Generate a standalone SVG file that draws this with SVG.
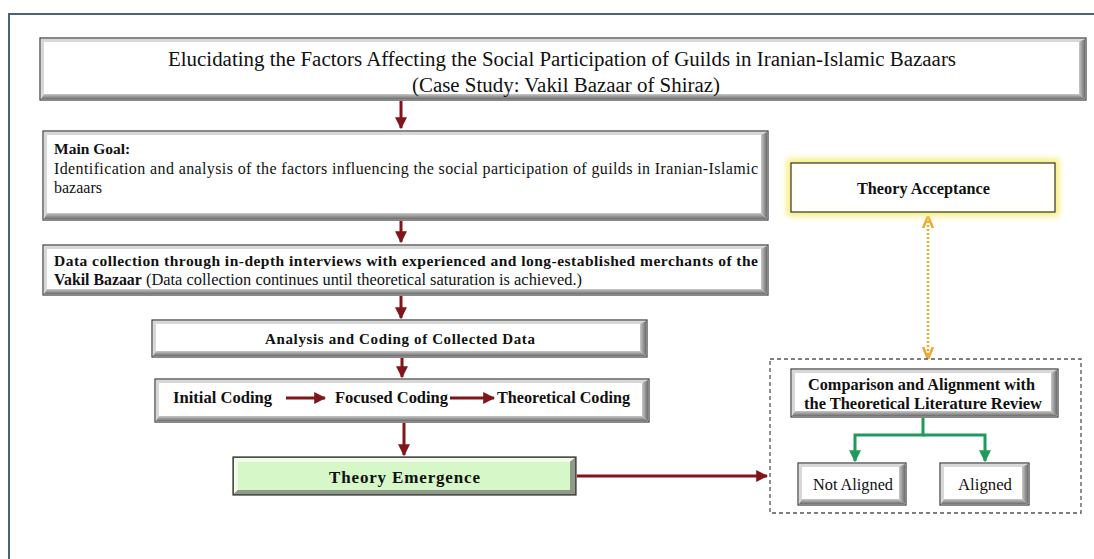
<svg xmlns="http://www.w3.org/2000/svg" width="1094" height="559" viewBox="0 0 1094 559">
<style>
.frame{fill:none;stroke:#4a6378;stroke-width:2}
.bx{fill:#ffffff;stroke:#3a3a3a;stroke-width:1.2}
.bvR{fill:url(#gR)}
.bvB{fill:url(#gB)}
.bvL{fill:#d8d8d8}
.t{font-family:"Liberation Serif","Times New Roman",serif;fill:#111}
.b{font-weight:bold}
.red{stroke:#80161a;stroke-width:3;fill:none}
.grn{stroke:#1e9a5a;stroke-width:3;fill:none}
.org{stroke:#f0a830;stroke-width:2.5;stroke-dasharray:2 2;fill:none}
.dash{fill:none;stroke:#555;stroke-width:1.3;stroke-dasharray:4 3}
</style>
<defs>
<linearGradient id="gR" x1="0" y1="0" x2="1" y2="0"><stop offset="0" stop-color="#c8c8c8"/><stop offset="1" stop-color="#6e6e6e"/></linearGradient>
<linearGradient id="gB" x1="0" y1="0" x2="0" y2="1"><stop offset="0" stop-color="#c8c8c8"/><stop offset="1" stop-color="#6e6e6e"/></linearGradient>
<marker id="ar" viewBox="0 0 10 10" refX="9" refY="5" markerWidth="4" markerHeight="4" orient="auto"><path d="M0,0 L10,5 L0,10 z" fill="#80161a"/></marker>
<marker id="ag" viewBox="0 0 10 10" refX="9" refY="5" markerWidth="4" markerHeight="4" orient="auto"><path d="M0,0 L10,5 L0,10 z" fill="#1e9a5a"/></marker>
<marker id="ao" viewBox="0 0 10 10" refX="9" refY="5" markerWidth="5" markerHeight="5" orient="auto-start-reverse"><path d="M0,1 L10,5 L0,9" fill="none" stroke="#f0a830" stroke-width="2"/></marker>
<filter id="glow" x="-20%" y="-50%" width="140%" height="200%"><feGaussianBlur stdDeviation="3"/></filter>
</defs>
<rect x="0" y="0" width="1094" height="559" fill="#ffffff"/>
<rect class="frame" x="9" y="14" width="1100" height="560"/>

<g id="connectors">
<line class="red" x1="401" y1="101" x2="401" y2="128" marker-end="url(#ar)"/>
<line class="red" x1="401" y1="221" x2="401" y2="242" marker-end="url(#ar)"/>
<line class="red" x1="401" y1="296" x2="401" y2="318" marker-end="url(#ar)"/>
<line class="red" x1="402" y1="358" x2="402" y2="377" marker-end="url(#ar)"/>
<line class="red" x1="404" y1="423" x2="404" y2="455" marker-end="url(#ar)"/>
<line class="red" x1="577" y1="476" x2="767" y2="476" marker-end="url(#ar)"/>
<line class="org" x1="928" y1="217" x2="928" y2="358" marker-start="url(#ao)" marker-end="url(#ao)"/>
<path class="grn" d="M923,418 V435 H855 V461" marker-end="url(#ag)"/>
<path class="grn" d="M923,435 H985 V461" marker-end="url(#ag)"/>
</g>

<g id="title">
<rect class="bx" x="40" y="38" width="1046" height="62"/>
<polygon class="bvL" points="41,39 1085,39 1082,42 44,42 44,94 41,99"/>
<polygon class="bvR" points="1079,42 1085,39 1085,99 1079,94"/>
<polygon class="bvB" points="44,94 1079,94 1085,99 41,99"/>
<rect x="44" y="42" width="1035" height="52" fill="#fff"/>
<text class="t" x="168" y="66" font-size="20.5" textLength="788" lengthAdjust="spacingAndGlyphs">Elucidating the Factors Affecting the Social Participation of Guilds in Iranian-Islamic Bazaars</text>
<text class="t" x="412" y="92" font-size="20.5" textLength="308" lengthAdjust="spacingAndGlyphs">(Case Study: Vakil Bazaar of Shiraz)</text>
</g>

<g id="main-goal">
<rect class="bx" x="43" y="131" width="725" height="89"/>
<polygon class="bvL" points="44,132 767,132 764,135 47,135 47,213 44,219"/>
<polygon class="bvR" points="761,135 767,132 767,219 761,213"/>
<polygon class="bvB" points="47,213 761,213 767,219 44,219"/>
<rect x="47" y="135" width="714" height="78" fill="#fff"/>
<text class="t b" x="54" y="154" font-size="15.5">Main Goal:</text>
<text class="t" x="54" y="174" font-size="16" textLength="704" lengthAdjust="spacing">Identification and analysis of the factors influencing the social participation of guilds in Iranian-Islamic</text>
<text class="t" x="54" y="193" font-size="16">bazaars</text>
</g>

<g id="data-collection">
<rect class="bx" x="43" y="245" width="725" height="50"/>
<polygon class="bvL" points="44,246 767,246 764,249 47,249 47,289 44,294"/>
<polygon class="bvR" points="761,249 767,246 767,294 761,289"/>
<polygon class="bvB" points="47,289 761,289 767,294 44,294"/>
<rect x="47" y="249" width="714" height="40" fill="#fff"/>
<text class="t b" x="54" y="266" font-size="15.5" textLength="704" lengthAdjust="spacing">Data collection through in-depth interviews with experienced and long-established merchants of the</text>
<text class="t" x="54" y="285" font-size="16.4" textLength="528" lengthAdjust="spacingAndGlyphs"><tspan class="b" font-size="15.8">Vakil Bazaar</tspan> (Data collection continues until theoretical saturation is achieved.)</text>
</g>

<g id="analysis">
<rect class="bx" x="152" y="320" width="495" height="37"/>
<polygon class="bvL" points="153,321 646,321 643,324 156,324 156,351 153,356"/>
<polygon class="bvR" points="640,324 646,321 646,356 640,351"/>
<polygon class="bvB" points="156,351 640,351 646,356 153,356"/>
<rect x="156" y="324" width="484" height="27" fill="#fff"/>
<text class="t b" x="265" y="344" font-size="15" textLength="270" lengthAdjust="spacing">Analysis and Coding of Collected Data</text>
</g>

<g id="coding">
<rect class="bx" x="155" y="379" width="494" height="43"/>
<polygon class="bvL" points="156,380 648,380 645,383 159,383 159,416 156,421"/>
<polygon class="bvR" points="642,383 648,380 648,421 642,416"/>
<polygon class="bvB" points="159,416 642,416 648,421 156,421"/>
<rect x="159" y="383" width="483" height="33" fill="#fff"/>
<text class="t b" x="173" y="403" font-size="16.3" textLength="99" lengthAdjust="spacingAndGlyphs">Initial Coding</text>
<line class="red" x1="286" y1="398" x2="325" y2="398" marker-end="url(#ar)"/>
<text class="t b" x="335" y="403" font-size="16.3" textLength="113" lengthAdjust="spacingAndGlyphs">Focused Coding</text>
<line class="red" x1="450" y1="398" x2="494" y2="398" marker-end="url(#ar)"/>
<text class="t b" x="497" y="403" font-size="16.3" textLength="133" lengthAdjust="spacingAndGlyphs">Theoretical Coding</text>
</g>

<g id="theory-emergence">
<rect x="233" y="457" width="343" height="38" fill="#6f7a6c" stroke="#333" stroke-width="1.2"/>
<polygon fill="#f2fbe9" points="234,458 575,458 570,462 238,462 238,490 234,494"/>
<polygon fill="#8f9a8a" points="570,462 575,458 575,494 570,490"/>
<polygon fill="#8f9a8a" points="238,490 570,490 575,494 234,494"/>
<rect x="238" y="462" width="332" height="28" fill="#d6f7c8"/>
<text class="t b" x="329" y="483" font-size="17" textLength="151" lengthAdjust="spacing">Theory Emergence</text>
</g>

<g id="theory-acceptance">
<rect x="791" y="163" width="264" height="49" fill="none" stroke="#f7ec70" stroke-width="8" filter="url(#glow)"/>
<rect x="791" y="163" width="264" height="49" fill="#fffff4" stroke="#333" stroke-width="1.2"/>
<rect x="796" y="168" width="254" height="39" fill="#fff"/>
<text class="t b" x="857" y="194" font-size="16.3" textLength="133" lengthAdjust="spacingAndGlyphs">Theory Acceptance</text>
</g>

<g id="comparison-group">
<rect class="dash" x="770" y="359" width="311" height="154"/>
</g>

<g id="comparison">
<rect class="bx" x="791" y="369" width="267" height="48"/>
<polygon class="bvL" points="792,370 1057,370 1054,373 795,373 795,411 792,416"/>
<polygon class="bvR" points="1051,373 1057,370 1057,416 1051,411"/>
<polygon class="bvB" points="795,411 1051,411 1057,416 792,416"/>
<rect x="795" y="373" width="256" height="38" fill="#fff"/>
<text class="t b" x="808" y="390" font-size="15.8" textLength="227" lengthAdjust="spacingAndGlyphs">Comparison and Alignment with</text>
<text class="t b" x="804" y="409" font-size="15.8" textLength="238" lengthAdjust="spacingAndGlyphs">the Theoretical Literature Review</text>
</g>

<g id="not-aligned">
<rect class="bx" x="798" y="463" width="108" height="42"/>
<polygon class="bvL" points="799,464 905,464 902,467 802,467 802,499 799,504"/>
<polygon class="bvR" points="899,467 905,464 905,504 899,499"/>
<polygon class="bvB" points="802,499 899,499 905,504 799,504"/>
<rect x="802" y="467" width="97" height="32" fill="#fff"/>
<text class="t" x="813" y="490" font-size="16.5" textLength="80" lengthAdjust="spacingAndGlyphs">Not Aligned</text>
</g>

<g id="aligned">
<rect class="bx" x="940" y="463" width="89" height="42"/>
<polygon class="bvL" points="941,464 1028,464 1025,467 944,467 944,499 941,504"/>
<polygon class="bvR" points="1022,467 1028,464 1028,504 1022,499"/>
<polygon class="bvB" points="944,499 1022,499 1028,504 941,504"/>
<rect x="944" y="467" width="78" height="32" fill="#fff"/>
<text class="t" x="958" y="490" font-size="16.5" textLength="54" lengthAdjust="spacingAndGlyphs">Aligned</text>
</g>
</svg>
